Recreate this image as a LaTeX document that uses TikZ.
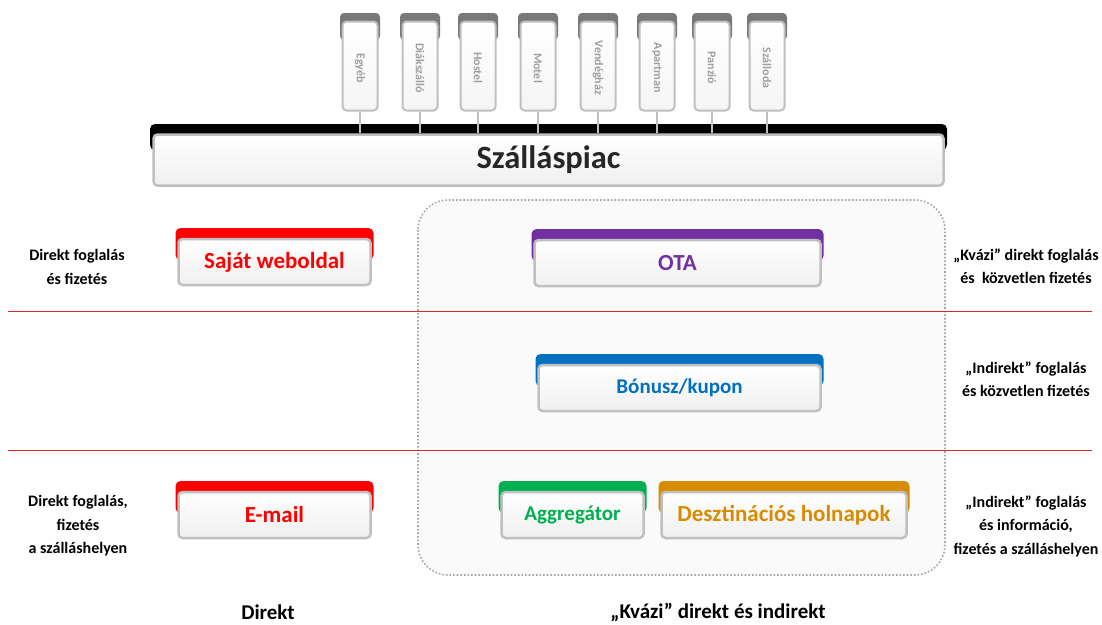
\documentclass[tikz,border=0pt]{standalone}
\usepackage{fontspec}
\setmainfont{Carlito}
\usetikzlibrary{calc}
\definecolor{sajatred}{RGB}{255,0,0}
\definecolor{otapurple}{RGB}{112,48,160}
\definecolor{bonuszblue}{RGB}{0,112,192}
\definecolor{aggrgreen}{RGB}{0,176,80}
\definecolor{deszorange}{RGB}{214,140,0}
\definecolor{tabgray}{RGB}{120,120,120}
\definecolor{rimgray}{RGB}{192,192,192}
\definecolor{sepred}{RGB}{220,40,40}
\tikzset{
  chanbody/.style={draw=rimgray, line width=2.5pt, rounded corners=4pt,
    top color=white, bottom color=gray!12, minimum height=46pt,
    font=\bfseries\fontsize{23}{26}\selectfont, inner sep=0pt},
  tabbody/.style={draw=rimgray, line width=2pt, rounded corners=4pt,
    top color=white, bottom color=gray!8, minimum width=35pt,
    minimum height=89pt, inner sep=0pt},
  tablabel/.style={text=gray!75, font=\bfseries\fontsize{12}{13}\selectfont,
    inner sep=0pt},
  tabline/.style={draw=rimgray, line width=2pt},
  sidetext/.style={align=center, font=\bfseries\fontsize{16}{23.5}\selectfont,
    inner sep=0pt},
  foottext/.style={font=\bfseries\fontsize{21}{24}\selectfont, inner sep=0pt},
  sepline/.style={draw=sepred, line width=1pt}
}
% colour strip + body of a channel box: name, left x, right x, top y, colour, text
\newcommand{\chanbox}[6]{
  \fill[#5, rounded corners=5pt] (#2-1.5,#4) rectangle (#3+1.5,#4+32);
  \node[chanbody, minimum width=#3-#2-3, text=#5] (#1)
    at ({(#2+#3)/2},#4+34) {#6};
}

\begin{document}
\begin{tikzpicture}[x=1pt,y=-1pt]
    \useasboundingbox[fill=white] (0,0) rectangle (1102,624);
    % quasi direct / indirect area
    \draw[gray!70, line width=1.6pt, dotted, rounded corners=30pt,
      fill=gray!4] (418,200) rectangle (945,575);
    % separators
    \draw[sepline] (8,311) -- (1092,311);
    \draw[sepline] (8,450) -- (1092,450);
    % market bar
    \fill[black, rounded corners=5pt] (150,124) rectangle (947,150);
    \node[chanbody, minimum width=790, minimum height=51, text=black!85,
      font=\bfseries\fontsize{32.5}{36}\selectfont] (piac) at (548.5,160)
      {Szálláspiac};
    % accommodation types
    \foreach \x/\nm/\txt in {360/egyeb/Egyéb, 420/diak/Diákszálló,
      478/hostel/Hostel, 538/motel/Motel, 598/vendeg/Vendégház,
      657/apart/Apartman, 712/panzio/Panzió, 767/szalloda/Szálloda}{
      \fill[tabgray, rounded corners=4pt] (\x-20,13) rectangle (\x+20,40);
      \node[tabbody] (t\nm) at (\x,66) {};
      \node[tablabel, rotate=-90] (l\nm) at (\x,68) {\txt};
      \draw[tabline] (t\nm.south) -- (t\nm.south |- piac.north);
    }
    % channels
    \chanbox{sajat}{177}{372}{228}{sajatred}{Saját weboldal}
    \chanbox{ota}{533}{822}{229}{otapurple}{OTA}
    \chanbox{bonusz}{537}{822}{354}{bonuszblue}
      {\fontsize{21}{24}\selectfont Bónusz/kupon}
    \chanbox{email}{177}{372}{481}{sajatred}{E-mail}
    \chanbox{aggr}{500}{645}{481}{aggrgreen}
      {\fontsize{21}{24}\selectfont Aggregátor}
    \chanbox{desz}{660}{908}{481}{deszorange}{Desztinációs holnapok}
    % left side
    \node[sidetext] (dfiz) at (77,267) {Direkt foglalás\\és fizetés};
    \node[sidetext] (dhely) at (78,526)
      {Direkt foglalás,\\fizetés\\a szálláshelyen};
    % right side
    \node[sidetext] (kvazi) at (1026,266)
      {„Kvázi” direkt foglalás\\és\ \ közvetlen fizetés};
    \node[sidetext] (indir) at (1026,379)
      {„Indirekt” foglalás\\és közvetlen fizetés};
    \node[sidetext] (indinf) at (1026,526)
      {„Indirekt” foglalás\\és információ,\\fizetés a szálláshelyen};
    % footer
    \node[foottext] (fdirekt) at (268,612) {Direkt};
    \node[foottext] (fkvazi) at (718,612) {„Kvázi” direkt és indirekt};
\end{tikzpicture}
\end{document}
